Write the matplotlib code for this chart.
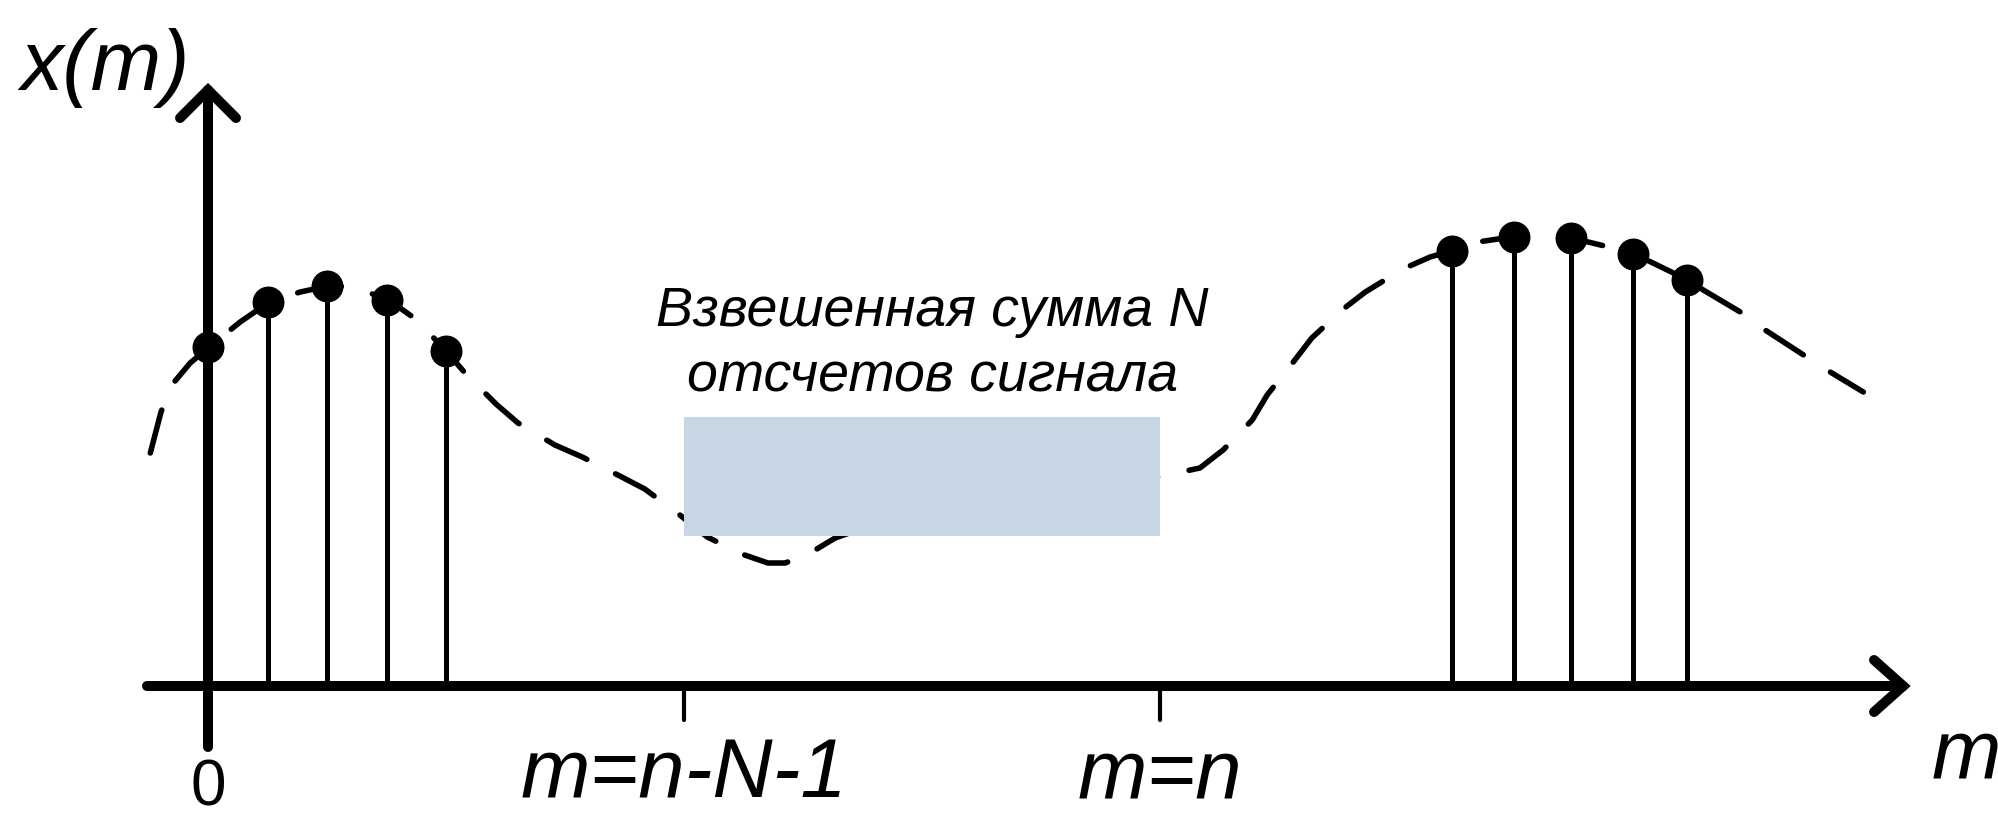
import numpy as np
import matplotlib.pyplot as plt
from matplotlib.patches import Rectangle

# отсчеты сигнала в начале оси (m = 0..4)
m_left = [0, 1, 2, 3, 4]
x_left = [3.41, 3.86, 4.02, 3.88, 3.37]

# отсчеты в окне около m = n
m_right = [20.9, 21.95, 22.9, 23.95, 24.85]
x_right = [4.37, 4.51, 4.50, 4.34, 4.08]

# огибающая (штриховая кривая)
curve_m = [-0.97, -0.79, -0.61, -0.30, 0.02, 0.54, 1.03, 1.55, 2.02, 2.44, 3.04,
           3.51, 4.0, 4.32, 4.84, 5.21, 5.83, 6.29, 6.92, 7.34, 7.93, 8.39, 8.97,
           9.41, 9.70, 10.12, 10.54, 11.63, 13.31, 14.99, 15.95, 16.67, 17.06,
           17.55, 17.80, 18.24, 18.55, 19.08, 19.45, 20.08, 20.54, 20.89, 21.23,
           21.68, 21.95, 22.44, 22.92, 23.61, 23.95, 24.18, 24.87, 25.13, 25.78,
           26.17, 26.79, 27.18, 27.82]
curve_x = [2.35, 2.76, 3.03, 3.25, 3.41, 3.66, 3.86, 3.96, 4.02, 4.01, 3.88,
           3.68, 3.37, 3.15, 2.84, 2.65, 2.43, 2.31, 2.12, 1.99, 1.73, 1.51, 1.34,
           1.25, 1.25, 1.35, 1.50, 1.73, 1.96, 2.10, 2.11, 2.20, 2.38,
           2.68, 2.93, 3.26, 3.50, 3.79, 3.96, 4.19, 4.31, 4.37, 4.45,
           4.49, 4.51, 4.52, 4.50, 4.40, 4.34, 4.28, 4.08, 3.98, 3.75,
           3.58, 3.34, 3.19, 2.96]

tick_pos = [8, 16]
tick_labels = ["m=n-N-1", "m=n"]
box_low, box_high = 1.52, 2.71

font = ["Liberation Sans Narrow", "Liberation Sans", "DejaVu Sans"]

fig = plt.figure(figsize=(19.99, 8.19), dpi=100)
ax = fig.add_axes([0, 0, 1, 1])
ax.set_xlim(-3.496, 30.10)
ax.set_ylim(-1.31, 6.88)
ax.axis("off")

# штриховая огибающая
ax.plot(curve_m, curve_x, color="black", lw=4.0, ls=(0, (8.0, 5.8)),
        dash_capstyle="round", solid_capstyle="round", zorder=1)

# окно суммирования
ax.add_patch(Rectangle((tick_pos[0], box_low), tick_pos[1] - tick_pos[0],
                       box_high - box_low, facecolor="#c8d5e5",
                       edgecolor="none", zorder=2))

# оси со стрелками
ax.plot([-1.03, 28.49], [0.02, 0.02], color="black", lw=7.2,
        solid_capstyle="round", zorder=3)
ax.plot([28.0, 28.49, 28.0], [0.28, 0.02, -0.24], color="black", lw=7.2,
        solid_capstyle="round", solid_joinstyle="miter", zorder=3)
ax.plot([0, 0], [-0.59, 5.98], color="black", lw=7.2,
        solid_capstyle="round", zorder=3)
ax.plot([-0.47, 0, 0.47], [5.70, 5.98, 5.70], color="black", lw=7.2,
        solid_capstyle="round", solid_joinstyle="miter", zorder=3)

# отсчеты
for mm, xx in zip(m_left + m_right, x_left + x_right):
    ax.plot([mm, mm], [0, xx], color="black", lw=3.6, zorder=4)
ax.plot(m_left + m_right, x_left + x_right, "o", color="black",
        markersize=22, zorder=5)

# метки на оси m
for t, lab in zip(tick_pos, tick_labels):
    ax.plot([t, t], [0, -0.32], color="black", lw=3, solid_capstyle="round", zorder=3)
    ax.text(t, -1.10, lab, family=font, style="italic", fontsize=60,
            ha="center", va="baseline")

ax.text(0, -1.18, "0", family=font, fontsize=46, ha="center", va="baseline")
ax.text(-3.16, 5.98, "x(m)", family=font, style="italic", fontsize=61,
        ha="left", va="baseline")
ax.text(28.97, -0.90, "m", family=font, style="italic", fontsize=60,
        ha="left", va="baseline")

ax.text(12.17, 3.62, "Взвешенная сумма N", family=font, style="italic",
        fontsize=40, ha="center", va="baseline")
ax.text(12.17, 2.96, "отсчетов сигнала", family=font, style="italic",
        fontsize=40, ha="center", va="baseline")

fig.savefig("out.png", dpi=100)
